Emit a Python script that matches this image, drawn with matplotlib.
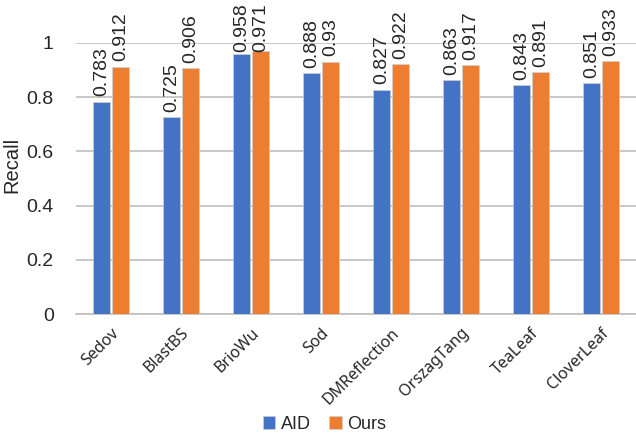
import matplotlib
matplotlib.use("Agg")
import matplotlib.pyplot as plt
import numpy as np

categories = ["Sedov", "BlastBS", "BrioWu", "Sod", "DMReflection",
              "OrszagTang", "TeaLeaf", "CloverLeaf"]
aid = [0.783, 0.725, 0.958, 0.888, 0.827, 0.863, 0.843, 0.851]
ours = [0.912, 0.906, 0.971, 0.93, 0.922, 0.917, 0.891, 0.933]
aid_labels = ["0.783", "0.725", "0.958", "0.888", "0.827", "0.863", "0.843", "0.851"]
ours_labels = ["0.912", "0.906", "0.971", "0.93", "0.922", "0.917", "0.891", "0.933"]

blue = "#4472C4"
orange = "#ED7D31"
grid_gray = "#BFBFBF"
text_col = "#262626"

plt.rcParams["font.family"] = ["Liberation Sans", "DejaVu Sans"]

fig = plt.figure(figsize=(6.36, 4.38), dpi=100)
ax = fig.add_axes([0.1195, 0.283, 0.8805, 0.619])

x = np.arange(len(categories))
w = 0.235
gap = 0.02
b1 = ax.bar(x - w / 2 - gap, aid, w, color=blue, edgecolor="#d0d0d0",
            linewidth=0.5, label="AID", zorder=3)
b2 = ax.bar(x + w / 2 + gap, ours, w, color=orange, edgecolor="#d0d0d0",
            linewidth=0.5, label="Ours", zorder=3)

value_texts = []
for bars, labels in ((b1, aid_labels), (b2, ours_labels)):
    for rect, lab in zip(bars, labels):
        t = ax.annotate(lab, (rect.get_x() + rect.get_width() / 2, rect.get_height()),
                        xytext=(0, 4), textcoords="offset points",
                        rotation=90, ha="center", va="bottom",
                        fontsize=14, color=text_col, annotation_clip=False)
        value_texts.append(t)

ax.set_xlim(-0.5, len(categories) - 0.5)
ax.set_ylim(0, 1)
ax.set_yticks(np.arange(0, 1.01, 0.2))
ax.set_yticklabels(["0", "0.2", "0.4", "0.6", "0.8", "1"])
ax.yaxis.grid(True, color=grid_gray, linewidth=1.2, zorder=0)
ax.set_axisbelow(True)
for s in ("top", "right", "left"):
    ax.spines[s].set_visible(False)
ax.spines["bottom"].set_color(grid_gray)
ax.spines["bottom"].set_linewidth(1.2)
ax.tick_params(axis="both", length=0, colors=text_col)
ax.tick_params(axis="y", labelsize=14, pad=16)

ax.set_xticks(x)
ax.set_xticklabels(categories, rotation=45, ha="right", rotation_mode="anchor",
                   fontsize=11.5, color=text_col, family=["Noto Sans", "DejaVu Sans"])
ax.tick_params(axis="x", pad=8)

ax.set_ylabel("Recall", fontsize=14.5, color=text_col)
ax.yaxis.set_label_coords(-0.098, 0.55)

fig.legend(handles=[b1, b2], labels=["AID", "Ours"], loc="lower center",
           bbox_to_anchor=(0.51, -0.025), ncol=2, frameon=False, fontsize=13,
           handlelength=0.7, handleheight=0.7, handletextpad=0.3, columnspacing=1.0,
           labelcolor=text_col)

# keep value labels inside the figure: nudge down any that run past the top
fig.canvas.draw()
renderer = fig.canvas.get_renderer()
fig_h = fig.bbox.height
for t in value_texts:
    bb = t.get_window_extent(renderer)
    over = bb.y1 - (fig_h - 3)
    if over > 0:
        ox, oy = t.xyann
        t.xyann = (ox, oy - over * 72.0 / fig.dpi)

fig.savefig("out.png", dpi=100)
